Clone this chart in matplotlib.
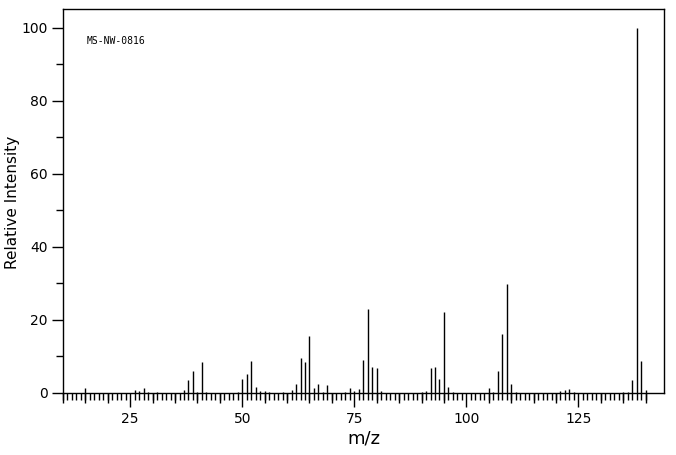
import matplotlib
matplotlib.use("Agg")
import matplotlib.pyplot as plt
import numpy as np

mz = [15, 26, 27, 28, 29, 31, 37, 38, 39, 40, 41, 42, 49, 50, 51, 52, 53, 54, 55, 56,
      59, 61, 62, 63, 64, 65, 66, 67, 68, 69, 73, 74, 75, 76, 77, 78, 79, 80, 81,
      90, 91, 92, 93, 94, 95, 96, 97, 105, 106, 107, 108, 109, 110, 111,
      121, 122, 123, 124, 135, 136, 137, 138, 139, 140]
intensity = [1.4, 0.9, 0.6, 1.4, 0.4, 0.4, 0.9, 3.6, 6.1, 0.4, 8.6, 0.4, 0.4, 3.9, 5.3, 8.8, 1.7, 0.6, 0.6, 0.4,
             0.4, 0.9, 2.5, 9.7, 8.6, 15.7, 1.4, 2.5, 0.4, 2.3, 0.4, 1.4, 0.6, 1.2, 9.1, 23.1, 7.2, 6.9, 0.6,
             0.4, 0.6, 6.9, 7.2, 3.9, 22.3, 1.7, 0.4, 1.4, 0.4, 6.1, 16.2, 29.9, 2.5, 0.4,
             0.6, 0.9, 1.1, 0.4, 0.4, 0.4, 3.6, 100.0, 8.8, 0.9]
label = "MS-NW-0816"
x_major = [25, 50, 75, 100, 125]
y_major = [0, 20, 40, 60, 80, 100]

fig = plt.figure(figsize=(6.76, 4.55), dpi=100)
ax = fig.add_axes([63/676, 62/455, 601/676, 383.7/455])
ax.vlines(mz, 0, intensity, colors="black", linewidth=1.0)
ax.set_xlim(10, 144.1)
ax.set_ylim(0, 105)

ax.set_xticks(x_major)
ax.set_xticks(np.arange(10, 141, 1), minor=True)
ax.set_yticks(y_major)
ax.set_yticks([10, 30, 50, 70, 90], minor=True)
ax.tick_params(axis="x", which="major", direction="out", length=10, width=1, labelsize=10, pad=4)
ax.tick_params(axis="x", which="minor", direction="out", length=5, width=1)
ax.tick_params(axis="y", which="major", direction="out", length=8, width=1, labelsize=10, pad=3)
ax.tick_params(axis="y", which="minor", direction="out", length=5, width=1)

sec = ax.secondary_xaxis("bottom")
sec.set_xticks([v for v in range(10, 141, 5) if v % 25 != 0])
sec.set_xticklabels([])
sec.tick_params(direction="out", length=7, width=1)
sec.spines["bottom"].set_visible(False)

for s in ax.spines.values():
    s.set_linewidth(1)

ax.set_xlabel("m/z", fontsize=13)
ax.set_ylabel("Relative Intensity", fontsize=11)
ax.xaxis.set_label_coords(0.5, -0.096)
ax.yaxis.set_label_coords(-0.0715, 0.498)
ax.text(0.04, 0.917, label, transform=ax.transAxes, fontsize=7,
        family="DejaVu Sans Mono", va="center", ha="left")

fig.savefig("out.png", dpi=100)
